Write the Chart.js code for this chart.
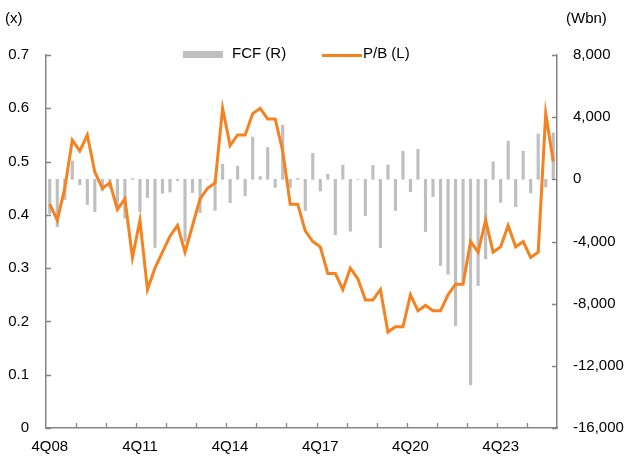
<!DOCTYPE html>
<html>
<head>
<meta charset="utf-8">
<script src="https://cdn.jsdelivr.net/npm/chart.js@4.4.1/dist/chart.umd.min.js"></script>
<style>
  body { margin: 0; background: #fff; }
  #wrap { position: relative; width: 630px; height: 465px; font-family: "Liberation Sans", Arial, sans-serif; font-size: 15px; color: #000; }
  #wrap canvas { position: absolute; left: 0; top: 0; }
  .note { position: absolute; top: 9px; line-height: 18px; }
  .leg { position: absolute; top: 45px; line-height: 16px; }
  .swatch { position: absolute; }
</style>
</head>
<body>
<div id="wrap">
  <canvas id="chart" width="630" height="465"></canvas>
  <div class="note" style="left:5px;">(x)</div>
  <div class="note" style="left:566px;">(Wbn)</div>
  <div class="swatch" style="left:183px; top:51px; width:40px; height:7px; background:#bfbfbf;"></div>
  <div class="leg" style="left:232px;">FCF (R)</div>
  <div class="swatch" style="left:322px; top:54px; width:40px; height:3px; background:#f5821f;"></div>
  <div class="leg" style="left:363px;">P/B (L)</div>
</div>
<script>
// quarterly, 4Q08 .. 3Q25
var quarters = [];
for (var n = 0; n < 68; n++) {
  var q = (3 + n) % 4 + 1;
  var yr = 2008 + Math.floor((3 + n) / 4);
  quarters.push(q + 'Q' + String(yr).slice(2));
}

// P/B (left axis, x)
var pb = [0.42, 0.39, 0.45, 0.54, 0.52, 0.55, 0.48, 0.45, 0.46, 0.41,
          0.43, 0.32, 0.39, 0.26, 0.30, 0.33, 0.36, 0.38, 0.33, 0.38,
          0.43, 0.45, 0.46, 0.60, 0.53, 0.55, 0.55, 0.59, 0.60, 0.58,
          0.58, 0.52, 0.42, 0.42, 0.37, 0.35, 0.34, 0.29, 0.29, 0.26,
          0.30, 0.28, 0.24, 0.24, 0.26, 0.18, 0.19, 0.19, 0.25, 0.22,
          0.23, 0.22, 0.22, 0.25, 0.27, 0.27, 0.35, 0.33, 0.39, 0.33,
          0.34, 0.38, 0.34, 0.35, 0.32, 0.33, 0.59, 0.50];

// FCF (right axis, Wbn)
var fcf = [-2200, -3050, -1300, 1180, -350, -1620, -2080, -750, -550, -1850,
           -2500, 50, -2080, -1170, -4390, -900, -810, -80, -4000, -850,
           -2140, 0, -2000, 980, -1500, 850, -1060, 2720, 180, 2050,
           -520, 3490, -520, 60, -2010, 1670, -750, 330, -3580, 920,
           -3340, 0, -2340, 900, -4400, 920, -2010, 1810, -800, 1925,
           -3360, -1115, -5545, -6100, -9420, -6740, -13225, -6840, -5120, 1130,
           -1480, 2460, -1760, 1810, -880, 2920, -490, 2990];

var leftTicks = [0, 0.1, 0.2, 0.3, 0.4, 0.5, 0.6, 0.7];
var rightTicks = [-16000, -12000, -8000, -4000, 0, 4000, 8000];

var axisColor = '#858585';
var font = { family: '"Liberation Sans", Arial, sans-serif', size: 15 };

// tick marks pointing into the plot
var innerTicks = {
  id: 'innerTicks',
  afterDraw: function (chart) {
    var ctx = chart.ctx, a = chart.chartArea;
    var x = chart.scales.x, yL = chart.scales.yL, yR = chart.scales.yR;
    var half = (x.getPixelForValue(1) - x.getPixelForValue(0)) / 2;
    ctx.save();
    ctx.strokeStyle = axisColor;
    ctx.lineWidth = 1.3;
    ctx.beginPath();
    for (var i = 4; i < quarters.length; i += 4) {
      var px = Math.round(x.getPixelForValue(i) - half) + 0.5;
      ctx.moveTo(px, a.bottom);
      ctx.lineTo(px, a.bottom - 5);
    }
    leftTicks.forEach(function (v) {
      var py = Math.round(yL.getPixelForValue(v)) + 0.5;
      ctx.moveTo(a.left, py);
      ctx.lineTo(a.left + 5, py);
    });
    rightTicks.forEach(function (v) {
      var py = Math.round(yR.getPixelForValue(v)) + 0.5;
      ctx.moveTo(a.right, py);
      ctx.lineTo(a.right - 5, py);
    });
    ctx.stroke();
    ctx.restore();
  }
};

new Chart(document.getElementById('chart'), {
  type: 'bar',
  data: {
    labels: quarters,
    datasets: [
      {
        type: 'line',
        label: 'P/B (L)',
        data: pb,
        yAxisID: 'yL',
        borderColor: '#f5821f',
        borderWidth: 3,
        pointRadius: 0,
        tension: 0,
        order: 1
      },
      {
        label: 'FCF (R)',
        data: fcf,
        yAxisID: 'yR',
        backgroundColor: '#bfbfbf',
        barThickness: 2.5,
        order: 2
      }
    ]
  },
  options: {
    responsive: false,
    animation: false,
    layout: { padding: { top: 55, left: 0, right: 0, bottom: 0 } },
    plugins: { legend: { display: false }, tooltip: { enabled: false } },
    scales: {
      x: {
        offset: true,
        grid: { display: false, drawTicks: false },
        border: { display: true, color: axisColor, width: 1.5 },
        ticks: {
          autoSkip: false, maxRotation: 0, minRotation: 0, padding: 10,
          color: '#000', font: font,
          callback: function (v, i) { return i % 12 === 0 ? quarters[i] : ''; }
        },
        afterFit: function (s) { s.height = 37; }
      },
      yL: {
        position: 'left',
        min: 0, max: 0.7,
        grid: { display: false, drawTicks: false },
        border: { display: true, color: axisColor, width: 1.5 },
        afterBuildTicks: function (s) { s.ticks = leftTicks.map(function (v) { return { value: v }; }); },
        ticks: {
          padding: 17, color: '#000', font: font,
          callback: function (v) { return v === 0 ? '0' : v.toFixed(1); }
        },
        afterFit: function (s) { s.width = 46; }
      },
      yR: {
        position: 'right',
        min: -16000, max: 8000,
        grid: { display: false, drawTicks: false },
        border: { display: true, color: axisColor, width: 1.5 },
        afterBuildTicks: function (s) { s.ticks = rightTicks.map(function (v) { return { value: v }; }); },
        ticks: {
          padding: 16, color: '#000', font: font,
          callback: function (v) { return v.toLocaleString('en-US'); }
        },
        afterFit: function (s) { s.width = 73; }
      }
    }
  },
  plugins: [innerTicks]
});
</script>
</body>
</html>
